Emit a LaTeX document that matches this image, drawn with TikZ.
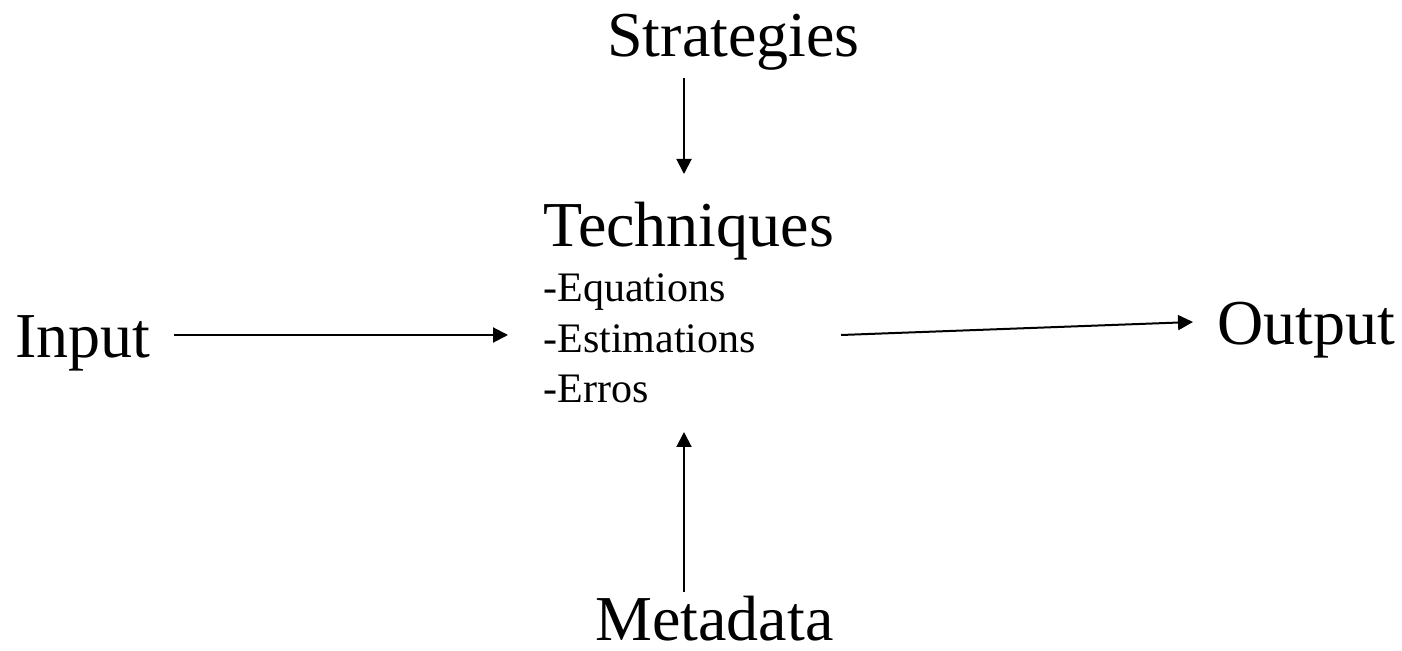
\documentclass[tikz,border=0pt]{standalone}
\usepackage{fontspec}
\setmainfont{Liberation Serif}
\usetikzlibrary{arrows.meta,calc}
\tikzset{
  bigtext/.style={inner sep=0pt, anchor=base west, font=\fontsize{32}{38}\selectfont},
  smalltext/.style={inner sep=0pt, anchor=base west, font=\fontsize{21}{25}\selectfont},
  arr/.style={line width=1pt, -{Triangle[length=7.5pt,width=7.5pt]}}
}
\begin{document}
\begin{tikzpicture}[x=0.5pt,y=-0.5pt]
\useasboundingbox (0,0) rectangle (1402,651);
\node[bigtext] (strat) at (607,57) {Strategies};
\node[bigtext] (tech) at (543,247) {Techniques};
\node[smalltext] (eq) at (543,302) {-Equations};
\node[smalltext] (est) at (543,353) {-Estimations};
\node[smalltext] (err) at (543,403) {-Erros};
\node[bigtext] (input) at (15,358) {Input};
\node[bigtext] (output) at (1217,345) {Output};
\node[bigtext] (meta) at (595,640) {Metadata};
\draw[arr] ($(input.base east)+(23,-23)$) -- ($(est.base west)+(-35,-18)$);
\draw[arr] ($(est.base east)+(85,-18)$) -- ($(output.base west)+(-24,-23)$);
\draw[arr] ($(strat.base west)+(77,21)$) -- ($(tech.base west)+(141,-73)$);
\draw[arr] ($(meta.base west)+(89,-48)$) -- ($(err.base west)+(141,29)$);
\end{tikzpicture}
\end{document}
